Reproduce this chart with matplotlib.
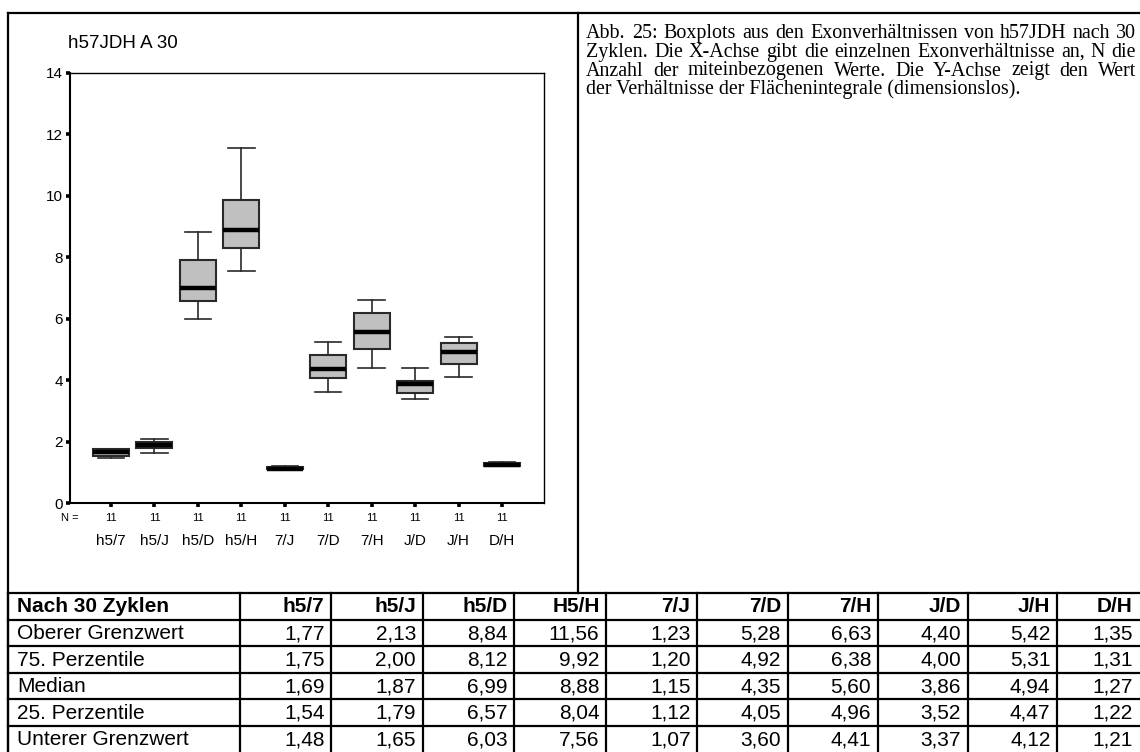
import matplotlib
matplotlib.use("Agg")
import matplotlib.pyplot as plt

plt.rcParams['font.family'] = ['Liberation Sans', 'DejaVu Sans']

# ---------------- data ----------------
categories = ['h5/7', 'h5/J', 'h5/D', 'h5/H', '7/J', '7/D', '7/H', 'J/D', 'J/H', 'D/H']
n_counts = [11, 11, 11, 11, 11, 11, 11, 11, 11, 11]

# boxplot values
whisker_high = [1.77, 2.10, 8.83, 11.56, 1.21, 5.25, 6.61, 4.41, 5.40, 1.33]
quartile_3 = [1.75, 1.98, 7.90, 9.86, 1.19, 4.82, 6.20, 3.99, 5.20, 1.30]
medians = [1.66, 1.88, 7.00, 8.88, 1.13, 4.36, 5.58, 3.87, 4.93, 1.26]
quartile_1 = [1.53, 1.80, 6.58, 8.30, 1.10, 4.08, 5.02, 3.58, 4.52, 1.22]
whisker_low = [1.48, 1.64, 5.99, 7.55, 1.07, 3.61, 4.41, 3.38, 4.12, 1.20]

y_ticks = [0, 2, 4, 6, 8, 10, 12, 14]

# table
table_title = 'Nach 30 Zyklen'
table_columns = ['h5/7', 'h5/J', 'h5/D', 'H5/H', '7/J', '7/D', '7/H', 'J/D', 'J/H', 'D/H']
table_row_labels = ['Oberer Grenzwert', '75. Perzentile', 'Median', '25. Perzentile', 'Unterer Grenzwert']
table_upper = [1.77, 2.13, 8.84, 11.56, 1.23, 5.28, 6.63, 4.40, 5.42, 1.35]
table_p75 = [1.75, 2.00, 8.12, 9.92, 1.20, 4.92, 6.38, 4.00, 5.31, 1.31]
table_median = [1.69, 1.87, 6.99, 8.88, 1.15, 4.35, 5.60, 3.86, 4.94, 1.27]
table_p25 = [1.54, 1.79, 6.57, 8.04, 1.12, 4.05, 4.96, 3.52, 4.47, 1.22]
table_lower = [1.48, 1.65, 6.03, 7.56, 1.07, 3.60, 4.41, 3.37, 4.12, 1.21]

chart_title = 'h57JDH A 30'
caption_lines = [
    'Abb. 25: Boxplots aus den Exonverhältnissen von h57JDH nach 30',
    'Zyklen. Die X-Achse gibt die einzelnen Exonverhältnisse an, N die',
    'Anzahl der miteinbezogenen Werte. Die Y-Achse zeigt den Wert',
    'der Verhältnisse der Flächenintegrale (dimensionslos).',
]

# ---------------- layout ----------------
W, H = 1140, 752
fig = plt.figure(figsize=(W / 100, H / 100), dpi=100)
fig.patch.set_facecolor('white')

ov = fig.add_axes([0, 0, 1, 1])
ov.set_xlim(0, W)
ov.set_ylim(H, 0)
ov.axis('off')

LW = 1.6
# outer frame
ov.plot([8, W + 2], [13, 13], color='black', lw=LW, solid_capstyle='projecting')
ov.plot([8, 8], [13, H + 2], color='black', lw=LW, solid_capstyle='projecting')
ov.plot([578, 578], [13, 593.3], color='black', lw=LW)

# ---------------- boxplot ----------------
ax_l, ax_r, ax_t, ax_b = 69.6, 543.8, 72.7, 503.3
ax = fig.add_axes([ax_l / W, (H - ax_b) / H, (ax_r - ax_l) / W, (ax_b - ax_t) / H])
positions = list(range(1, len(categories) + 1))
stats = []
for i in range(len(categories)):
    stats.append(dict(med=medians[i], q1=quartile_1[i], q3=quartile_3[i],
                      whislo=whisker_low[i], whishi=whisker_high[i], fliers=[]))
ax.bxp(stats, positions=positions, widths=0.83, capwidths=0.61,
       patch_artist=True, showfliers=False,
       boxprops=dict(facecolor='#c0c0c0', edgecolor='#2a2a2a', linewidth=1.5),
       medianprops=dict(color='black', linewidth=3.2, solid_capstyle='butt'),
       whiskerprops=dict(color='#2a2a2a', linewidth=1.2),
       capprops=dict(color='#2a2a2a', linewidth=1.2))
ax.set_xlim(0.047, 10.962)
ax.set_ylim(0, 14)
ax.set_yticks(y_ticks)
ax.set_yticklabels([str(v) for v in y_ticks], fontsize=11)
ax.set_xticks(positions)
ax.set_xticklabels([])
ax.tick_params(axis='y', direction='out', length=3, width=2.6, pad=2, colors='black')
ax.tick_params(axis='x', direction='out', length=3, width=2.6, pad=2, colors='black')
for s in ['left', 'bottom']:
    ax.spines[s].set_linewidth(1.5)
for s in ['top', 'right']:
    ax.spines[s].set_linewidth(1.0)

trans = ax.get_xaxis_transform()
n_y = (ax_b - 518.3) / (ax_b - ax_t)
cat_y = (ax_b - 541) / (ax_b - ax_t)
ax.text(0, n_y, 'N =', transform=ax.transAxes, ha='center', va='center', fontsize=8)
for p, n, c in zip(positions, n_counts, categories):
    ax.text(p, n_y, str(n), transform=trans, ha='center', va='center', fontsize=8)
    ax.text(p, cat_y, c, transform=trans, ha='center', va='center', fontsize=11)

ov.text(68.4, 43, chart_title, fontsize=13.5, ha='left', va='center')

# ---------------- caption (justified) ----------------
renderer = fig.canvas.get_renderer()
cap_x0, cap_x1 = 586, 1136
cap_base = [38.3, 56.9, 75.5, 94.1]
cap_font = dict(family=['Liberation Serif', 'DejaVu Serif'], fontsize=14.4)
for li, line in enumerate(caption_lines):
    words = line.split(' ')
    if li < len(caption_lines) - 1:
        texts = [ov.text(0, cap_base[li], w, ha='left', va='baseline', **cap_font) for w in words]
        widths = [t.get_window_extent(renderer).width for t in texts]
        gap = (cap_x1 - cap_x0 - sum(widths)) / (len(words) - 1)
        x = cap_x0
        for t, wdt in zip(texts, widths):
            t.set_x(x)
            x += wdt + gap
    else:
        ov.text(cap_x0, cap_base[li], line, ha='left', va='baseline', **cap_font)

# ---------------- table ----------------
col_edges = [8, 239.5, 331, 422.5, 514, 606, 697, 787.5, 877.5, 967.5, 1057, 1139]
row_edges = [593.3, 619.5, 646, 672.5, 699, 725.5, 752]
for y in row_edges[:-1]:
    ov.plot([8, W + 2], [y, y], color='black', lw=LW, solid_capstyle='projecting')
for x in col_edges[:-1]:
    ov.plot([x, x], [row_edges[0], H + 2], color='black', lw=LW)

tfs = 15
ov.text(17, (row_edges[0] + row_edges[1]) / 2, table_title, fontsize=tfs,
        fontweight='bold', ha='left', va='center')
for j, cname in enumerate(table_columns):
    ov.text(col_edges[j + 2] - 6.5, (row_edges[0] + row_edges[1]) / 2, cname,
            fontsize=tfs, fontweight='bold', ha='right', va='center')
table_values = [table_upper, table_p75, table_median, table_p25, table_lower]
for i, (lab, vals) in enumerate(zip(table_row_labels, table_values)):
    yc = (row_edges[i + 1] + row_edges[i + 2]) / 2 + 1
    ov.text(17, yc, lab, fontsize=tfs, ha='left', va='center')
    for j, v in enumerate(vals):
        ov.text(col_edges[j + 2] - 6.5, yc, f'{v:.2f}'.replace('.', ','),
                fontsize=tfs, ha='right', va='center')

fig.savefig('out.png', dpi=100, facecolor='white')
